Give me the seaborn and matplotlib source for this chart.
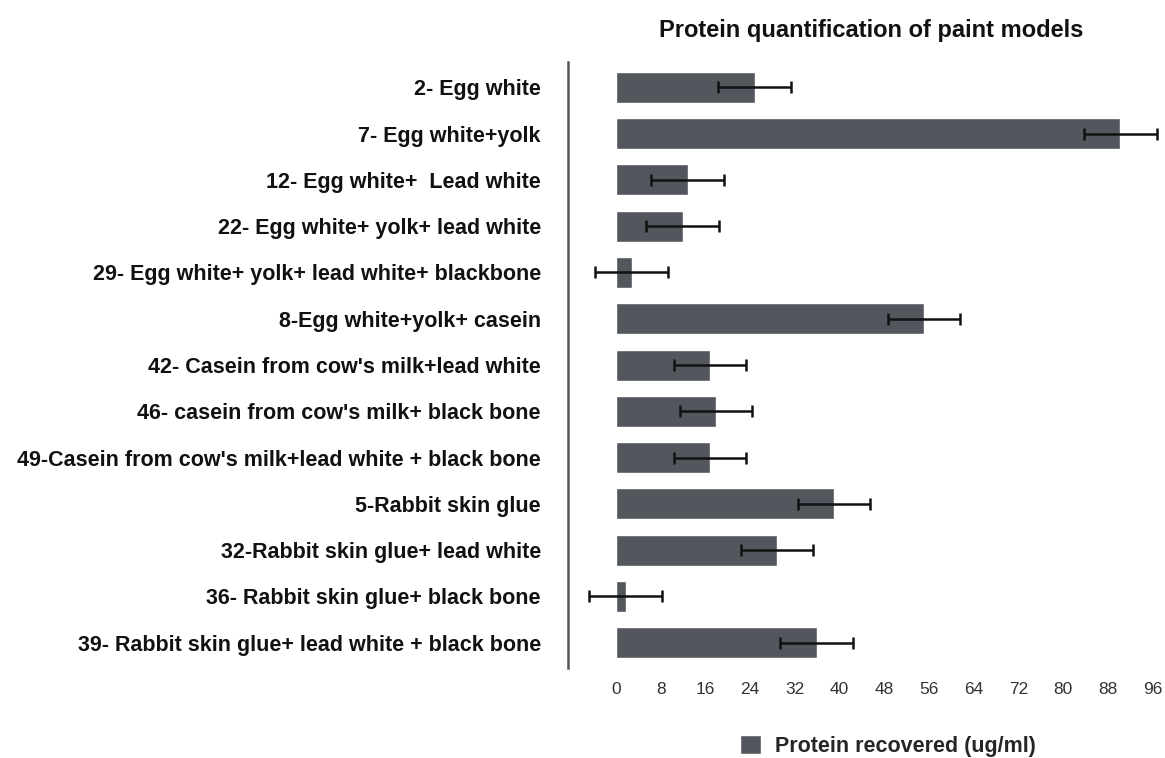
import matplotlib
matplotlib.use("Agg")
import matplotlib.pyplot as plt
import seaborn as sns
import pandas as pd
import numpy as np

categories = [
    "2- Egg white",
    "7- Egg white+yolk",
    "12- Egg white+  Lead white",
    "22- Egg white+ yolk+ lead white",
    "29- Egg white+ yolk+ lead white+ blackbone",
    "8-Egg white+yolk+ casein",
    "42- Casein from cow's milk+lead white",
    "46- casein from cow's milk+ black bone",
    "49-Casein from cow's milk+lead white + black bone",
    "5-Rabbit skin glue",
    "32-Rabbit skin glue+ lead white",
    "36- Rabbit skin glue+ black bone",
    "39- Rabbit skin glue+ lead white + black bone",
]
protein = [24.8, 90.2, 12.8, 11.9, 2.8, 55.1, 16.8, 17.9, 16.8, 39.0, 28.8, 1.7, 35.9]
errors = [6.5, 6.5, 6.5, 6.5, 6.5, 6.5, 6.5, 6.5, 6.5, 6.5, 6.5, 6.5, 6.5]
xticks = [0, 8, 16, 24, 32, 40, 48, 56, 64, 72, 80, 88, 96]
series_name = "Protein recovered (ug/ml)"
title = "Protein quantification of paint models"

sns.set_style("white")
plt.rcParams['font.family'] = ['Liberation Sans', 'DejaVu Sans']

df = pd.DataFrame({"Sample": categories, series_name: protein})

fig = plt.figure(figsize=(11.65, 7.58), dpi=100)
ax = fig.add_axes([0.4876, 0.1187, 0.508, 0.7995])

bar_color = "#53565c"
sns.barplot(data=df, y="Sample", x=series_name, orient="h", color=bar_color,
            width=0.67, errorbar=None, ax=ax, label=series_name, saturation=1)
ax.errorbar(protein, np.arange(len(categories)), xerr=errors, fmt="none",
            ecolor="#111111", elinewidth=1.8, capsize=4.5, capthick=1.8, zorder=5)

ax.set_xlim(-8.6, 97.3)
ax.set_ylim(12.55, -0.55)
ax.set_xticks(xticks)
ax.set_xticklabels([str(t) for t in xticks], fontsize=12.5, color="#333333")
ax.tick_params(axis="x", length=0, pad=10)
ax.tick_params(axis="y", length=0, pad=19.5)
for lab in ax.get_yticklabels():
    lab.set_fontweight("bold")
    lab.set_fontsize(15.5)
    lab.set_color("#111111")
ax.set_xlabel("")
ax.set_ylabel("")
for s in ["top", "right", "bottom"]:
    ax.spines[s].set_visible(False)
ax.spines["left"].set_color("#555555")
ax.spines["left"].set_linewidth(1.8)

ax.set_title(title, fontsize=17, fontweight="bold", pad=18, color="#111111",
             x=0.512)

leg = ax.legend(loc="center", bbox_to_anchor=(0.762, 0.016),
                bbox_transform=fig.transFigure, frameon=False,
                prop={"weight": "bold", "size": 15.5}, handlelength=1.0,
                handleheight=1.0, handletextpad=0.65, borderpad=0.0)

fig.savefig("out.png", dpi=100)
